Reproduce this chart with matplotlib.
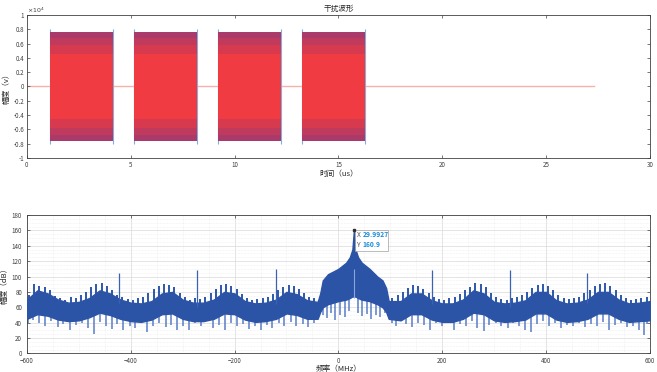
import numpy as np
import matplotlib
matplotlib.use("Agg")
import matplotlib.pyplot as plt
from matplotlib.ticker import MultipleLocator, FuncFormatter

plt.rcParams['font.family'] = ['Noto Sans CJK SC', 'DejaVu Sans']

# ---- time domain: jamming bursts (us, volts) ----
burst_start = [1.11, 5.17, 9.21, 13.26]
burst_end = [4.16, 8.20, 12.23, 16.27]
burst_amp = 7600
edge_amp = 8000
baseline_end = 27.3

# ---- spectrum envelope (MHz, dB) ----
freq = [-600, -580, -560, -540, -520, -500, -480, -460, -440, -420, -400, -380,
        -360, -340, -320, -300, -280, -260, -240, -220, -200, -180, -160, -140,
        -120, -100, -80, -60, -40, -35, -30, -20, 0, 15, 22, 27, 30, 33, 38, 45,
        60, 75, 85, 92, 97, 120, 140, 160, 180, 200, 220, 240, 260, 280, 300,
        320, 340, 360, 380, 400, 420, 440, 460, 480, 500, 520, 540, 560, 580, 600]
upper = [70, 82, 78, 70, 66, 67, 72, 82, 78, 70, 66, 65,
         68, 78, 80, 70, 66, 66, 70, 80, 78, 68, 65, 66,
         70, 80, 77, 69, 67, 78, 95, 103, 110, 118, 125, 135, 160.9, 135, 125, 118,
         110, 100, 95, 85, 68, 68, 78, 78, 69, 65, 65, 70, 82, 78, 67,
         65, 66, 69, 80, 80, 69, 65, 66, 70, 80, 80, 70, 65, 66, 68]
lower = [45, 51, 49, 44, 42, 43, 47, 53, 50, 45, 42, 41,
         44, 51, 52, 45, 42, 42, 45, 52, 51, 44, 41, 42,
         45, 52, 50, 45, 45, 54, 60, 64, 68, 70, 72, 74, 74, 74, 72, 70,
         68, 64, 60, 54, 45, 43, 51, 51, 44, 41, 41, 45, 53, 51, 43,
         41, 42, 44, 52, 52, 44, 41, 42, 45, 52, 52, 45, 41, 42, 43]

# narrow spurs
spur_freq = [-422, -272, -121, 180, 331, 480]
spur_peak = [105, 109, 110, 109, 109, 104]

# downward noise whiskers
dip_freq = [-598, -588, -577, -566, -553, -541, -530, -517, -506, -494, -483,
            -471, -460, -448, -437, -426, -414, -402, -391, -380, -368, -357,
            -345, -333, -322, -311, -299, -288, -276, -264, -253, -242, -230,
            -219, -207, -196, -184, -173, -161, -150, -138, -127, -115, -104,
            -92, -81, -69, -58, -46,
            -30, -22, -14, -6, 4, 12, 20, 38, 46, 55, 63, 72, 80, 90,
            104, 112, 121, 130, 142, 153, 165, 176, 188, 199, 211, 222, 234,
            245, 257, 268, 280, 291, 303, 314, 326, 337, 349, 360, 372, 383,
            395, 406, 418, 429, 441, 452, 464, 475, 487, 498, 510, 521, 533,
            544, 556, 567, 579, 588, 595]
dip_val = [38, 44, 40, 36, 42, 34, 38, 31, 37, 40, 33,
           25, 41, 36, 32, 38, 30, 35, 33, 39, 28, 36,
           40, 34, 37, 31, 36, 30, 39, 35, 42, 33, 37,
           31, 40, 35, 38, 32, 36, 30, 37, 33, 39, 35,
           41, 36, 38, 34, 40,
           50, 46, 52, 44, 50, 47, 55, 52, 48, 51, 45, 50, 47, 52,
           40, 36, 42, 38, 34, 40, 37, 31, 39, 35, 40, 30, 38,
           36, 42, 33, 29, 37, 40, 35, 33, 39, 36, 31, 28, 38,
           42, 36, 40, 33, 37, 35, 39, 34, 38, 36, 41, 30, 37,
           39, 34, 36, 31, 24, 38]

# upward noise whiskers
up_freq = [-596, -586, -576, -566, -556, -546, -536, -526, -516, -506, -496,
           -486, -476, -466, -456, -446, -436, -426, -416, -406, -396, -386,
           -376, -366, -356, -346, -336, -326, -316, -306, -296, -286, -276,
           -266, -256, -246, -236, -226, -216, -206, -196, -186, -176, -166,
           -156, -146, -136, -126, -116, -106, -96, -86, -76, -66, -56, -46,
           104, 114, 124, 134, 144, 154, 164, 174, 184, 194, 204, 214, 224,
           234, 244, 254, 264, 274, 284, 294, 304, 314, 324, 334, 344, 354,
           364, 374, 384, 394, 404, 414, 424, 434, 444, 454, 464, 474, 484,
           494, 504, 514, 524, 534, 544, 554, 564, 574, 584, 594]
up_val = [76, 90, 88, 86, 82, 75, 72, 70, 73, 72, 76,
          80, 86, 90, 91, 88, 82, 76, 73, 71, 70, 72,
          74, 78, 84, 88, 90, 89, 86, 78, 73, 70, 72,
          71, 74, 78, 84, 89, 90, 88, 84, 77, 72, 70,
          71, 72, 74, 77, 82, 86, 89, 88, 84, 78, 74, 72,
          72, 76, 80, 85, 89, 88, 84, 78, 74, 71, 70, 72, 73,
          77, 82, 87, 91, 90, 86, 79, 73, 71, 70, 72, 73, 76,
          80, 85, 89, 90, 88, 82, 76, 72, 71, 72, 74, 78, 83,
          88, 90, 91, 88, 82, 76, 72, 70, 71, 72, 73]

fig = plt.figure(figsize=(6.57, 3.72), dpi=100)
ax1 = fig.add_axes([0.041, 0.575, 0.948, 0.385])
ax2 = fig.add_axes([0.041, 0.050, 0.948, 0.372])

# time waveform
ax1.plot([0, baseline_end], [0, 0], color='#f7b2ad', lw=1.0, zorder=1)
for s, e in zip(burst_start, burst_end):
    ax1.vlines([s, e], -edge_amp, edge_amp, color='#7fb0e0', lw=0.8, zorder=2)
    ax1.fill_between([s, e], -burst_amp, burst_amp, color='#ef3b41', lw=0, zorder=3)
    for a0, al in [(0.45, 0.18), (0.58, 0.22), (0.68, 0.25)]:
        ax1.fill_between([s, e], a0 * 1e4, burst_amp, color='#6a3a90', alpha=al, lw=0, zorder=4)
        ax1.fill_between([s, e], -burst_amp, -a0 * 1e4, color='#6a3a90', alpha=al, lw=0, zorder=4)
ax1.set_xlim(0, 30)
ax1.set_ylim(-1e4, 1e4)
ax1.xaxis.set_major_locator(MultipleLocator(5))
ax1.yaxis.set_major_locator(MultipleLocator(2000))
ax1.yaxis.set_major_formatter(FuncFormatter(lambda v, p: '%g' % round(v / 1e4, 1)))
ax1.text(0.0, 1.012, r'$\times10^4$', transform=ax1.transAxes, fontsize=4.5, color='#404040')
ax1.set_title('干扰波形', fontsize=5.5, pad=3, color='#262626')
ax1.set_xlabel('时间（us）', fontsize=5.5, labelpad=1, color='#262626')
ax1.set_ylabel('幅度（v）', fontsize=5.5, labelpad=2, color='#262626')

# spectrum
ax2.grid(True, which='major', color='#d9d9d9', lw=0.5)
ax2.grid(True, which='minor', color='#e4e4e4', lw=0.4, ls=':')
ax2.vlines(dip_freq, dip_val, [np.interp(f, freq, lower) + 6 for f in dip_freq],
           color='#5a7cc8', lw=1.1, zorder=2)
ax2.vlines(up_freq, [np.interp(f, freq, upper) - 6 for f in up_freq], up_val,
           color='#2e57a9', lw=1.4, zorder=2)
ax2.fill_between(freq, lower, upper, color='#2b54a6', lw=1.0, zorder=3)
ax2.vlines(spur_freq, [np.interp(f, freq, upper) - 5 for f in spur_freq], spur_peak,
           color='#3a62b4', lw=0.9, zorder=4)
ax2.vlines([30], 72, 110, color='#8aa4dc', lw=0.8, zorder=4)
ax2.plot([29.9927], [160.9], marker='s', ms=2, color='#303030', zorder=6)
ax2.text(36, 152, 'X', fontsize=4.8, color='#505050', zorder=7)
ax2.text(47, 152, '29.9927', fontsize=4.8, color='#1b8ad6', fontweight='bold', zorder=7)
ax2.text(36, 139, 'Y', fontsize=4.8, color='#505050', zorder=7)
ax2.text(47, 139, '160.9', fontsize=4.8, color='#1b8ad6', fontweight='bold', zorder=7)
ax2.add_patch(plt.Rectangle((32, 133), 64, 28, facecolor='white', edgecolor='#9a9a9a',
                            lw=0.5, alpha=0.95, zorder=5))
ax2.set_xlim(-600, 600)
ax2.set_ylim(0, 180)
ax2.xaxis.set_major_locator(MultipleLocator(200))
ax2.xaxis.set_minor_locator(MultipleLocator(50))
ax2.yaxis.set_major_locator(MultipleLocator(20))
ax2.yaxis.set_minor_locator(MultipleLocator(5))
ax2.set_xlabel('频率（MHz）', fontsize=5.5, labelpad=0, color='#262626')
ax2.set_ylabel('幅度（dB）', fontsize=5.5, labelpad=2, color='#262626')

for ax in (ax1, ax2):
    ax.tick_params(which='both', direction='in', top=True, right=True,
                   labelsize=4.5, length=2.5, width=0.5, colors='#404040', pad=2)
    ax.tick_params(which='minor', length=0)
    for sp in ax.spines.values():
        sp.set_color('#404040')
        sp.set_linewidth(0.6)
ax2.tick_params(axis='x', pad=2.5)
ax2.tick_params(axis='y', pad=3.5)

fig.savefig('out.png', dpi=100)
